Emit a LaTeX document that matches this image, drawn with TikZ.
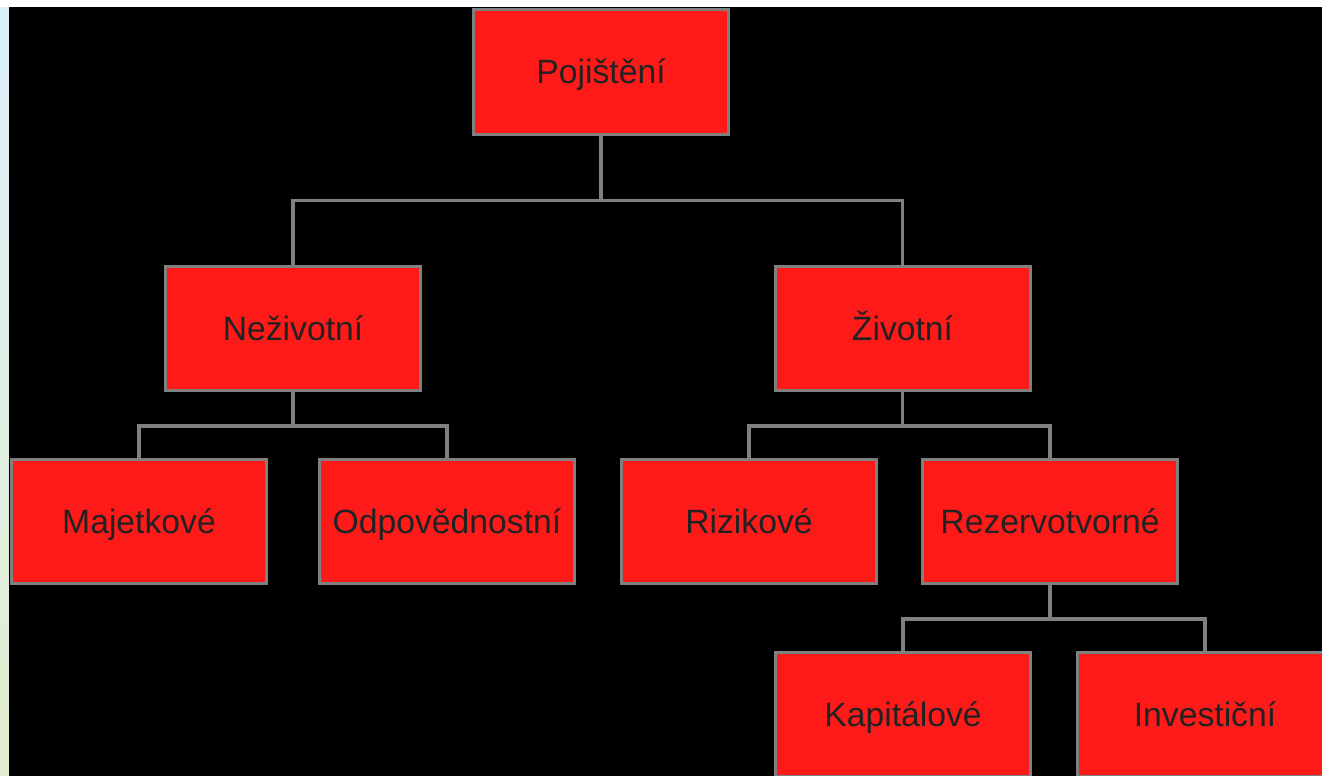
\documentclass[tikz,border=0pt]{standalone}
\usepackage{fontspec}
\setmainfont{Liberation Sans}
\definecolor{boxred}{HTML}{FF1A1A}
\definecolor{edgegray}{HTML}{808080}
\definecolor{txt}{HTML}{222222}
\definecolor{skyA}{HTML}{DDF0FA}
\definecolor{skyB}{HTML}{E2EDCF}
\tikzset{
  box/.style={draw=edgegray, line width=3pt, fill=boxred, minimum width=255pt, minimum height=124pt,
    inner sep=0pt, text=txt, text height=30pt, text depth=7pt, font=\fontsize{33.7}{40}\selectfont},
  link/.style={draw=edgegray, line width=3.2pt}
}
\begin{document}
\begin{tikzpicture}[x=1pt,y=-1pt]
\useasboundingbox (0,0) rectangle (1322,776);
\shade[top color=skyA, bottom color=skyB] (0,0) rectangle (10,776);
\fill[white] (0,0) rectangle (1322,7);
\fill[black] (9,7) rectangle (1322,776);
\begin{scope}
\clip (9,7) rectangle (1322,776);
\node[box] (poj) at (601,72) {Pojištění};
\node[box] (nez) at (293,328.5) {Neživotní};
\node[box] (ziv) at (902.5,328.5) {Životní};
\node[box] (maj) at (139,521.5) {Majetkové};
\node[box] (odp) at (447,521.5) {Odpovědnostní};
\node[box] (riz) at (749,521.5) {Rizikové};
\node[box] (rez) at (1050,521.5) {Rezervotvorné};
\node[box] (kap) at (903,714.5) {Kapitálové};
\node[box] (inv) at (1205,714.5) {Investiční};
\draw[link] (poj.south) -- ++(0,65) -| (nez.north);
\draw[link] (poj.south) -- ++(0,65) -| (ziv.north);
\draw[link] (nez.south) -- ++(0,34) -| (maj.north);
\draw[link] (nez.south) -- ++(0,34) -| (odp.north);
\draw[link] (ziv.south) -- ++(0,34) -| (riz.north);
\draw[link] (ziv.south) -- ++(0,34) -| (rez.north);
\draw[link] (rez.south) -- ++(0,34) -| (kap.north);
\draw[link] (rez.south) -- ++(0,34) -| (inv.north);
\end{scope}
\end{tikzpicture}
\end{document}
